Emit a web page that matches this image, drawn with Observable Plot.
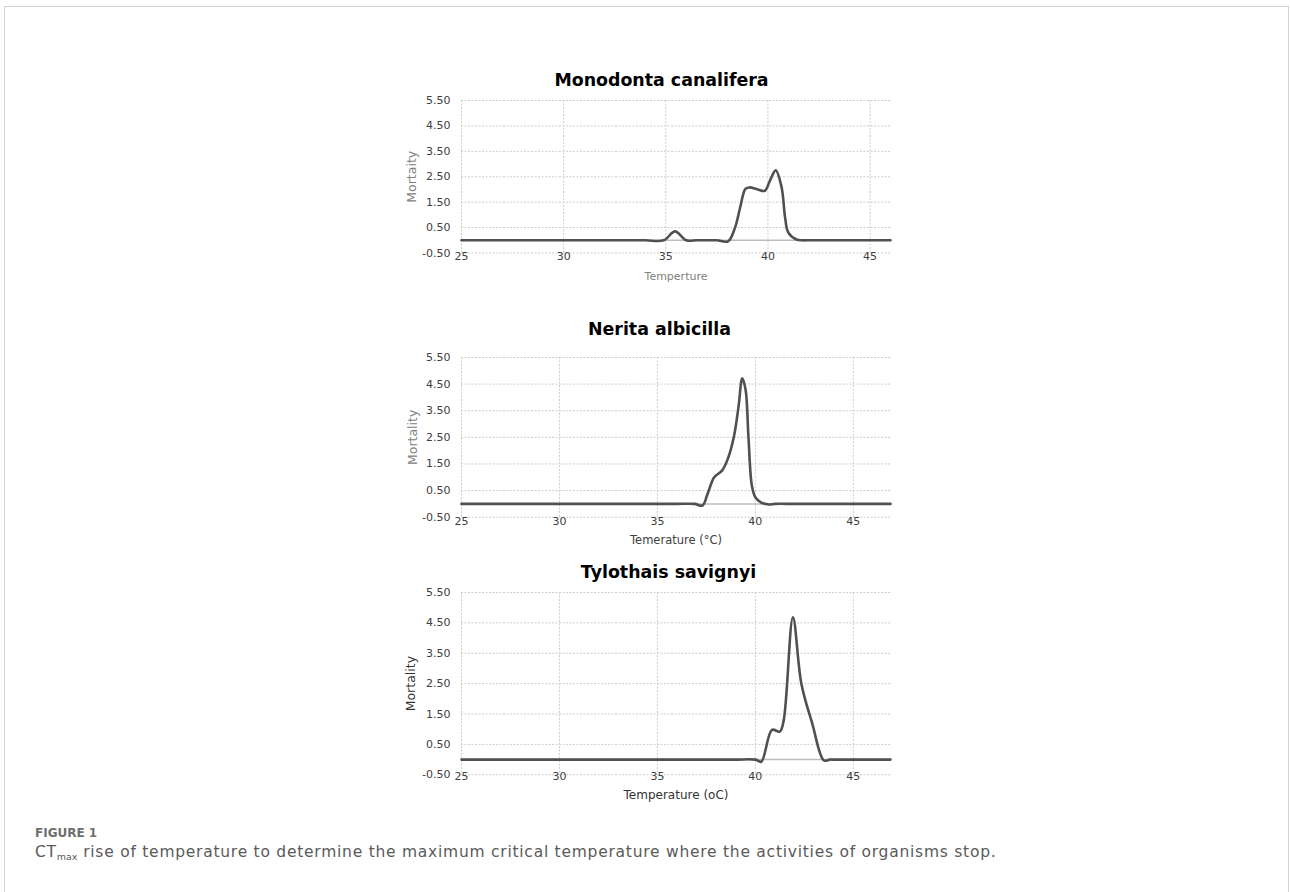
<!DOCTYPE html>
<html>
<head>
<meta charset="utf-8">
<script src="https://cdn.jsdelivr.net/npm/d3@7"></script>
<script src="https://cdn.jsdelivr.net/npm/@observablehq/plot@0.6"></script>
<style>
  html, body { margin: 0; padding: 0; background: #fff; }
  body { width: 1290px; height: 892px; overflow: hidden; position: relative; }
  #frame { position: absolute; left: 4px; top: 6px; width: 1285px; height: 900px;
           border: 1.5px solid #d2d2d2; border-bottom: none; box-sizing: border-box; }
  .panel { position: absolute; left: 395px; }
  .panel svg { overflow: visible; }
  #figlabel { position: absolute; left: 35px; top: 826.8px; font: 600 12px/12px "DejaVu Sans", sans-serif;
              color: #6e6e6e; white-space: nowrap; }
  #caption { position: absolute; left: 35px; top: 845px; font: 400 15.5px/15.5px "DejaVu Sans", sans-serif;
             color: #5a5a5a; white-space: nowrap; letter-spacing: 0.75px; }
  #caption sub { font-size: 9.5px; line-height: 0; vertical-align: -3px; letter-spacing: 0; }
</style>
</head>
<body>
<div id="frame"></div>
<div id="p1" class="panel" style="top:60px"></div>
<div id="p2" class="panel" style="top:317px"></div>
<div id="p3" class="panel" style="top:552px"></div>
<div id="figlabel">FIGURE 1</div>
<div id="caption">CT<sub>max</sub> rise of temperature to determine the maximum critical temperature where the activities of organisms stop.</div>
<script>
// ---- data ----
const xTicks = [25, 30, 35, 40, 45];
const yTicks = [-0.5, 0.5, 1.5, 2.5, 3.5, 4.5, 5.5];

const titles = ["Monodonta canalifera", "Nerita albicilla", "Tylothais savignyi"];
const xLabels = ["Temperture", "Temerature (°C)", "Temperature (oC)"];
const yLabels = ["Mortaity", "Mortality", "Mortality"];

// Monodonta canalifera
const monoTemp = [25, 26, 27, 28, 29, 30, 31, 32, 33, 34, 34.9, 35.45, 36.0, 36.5, 37, 37.5, 38.05, 38.39, 38.64, 38.9, 39.1, 39.5, 39.85, 40.1, 40.38, 40.67, 40.84, 41.0, 41.4, 41.7, 42, 43, 44, 45, 46];
const monoMort = [0, 0, 0, 0, 0, 0, 0, 0, 0, 0, 0, 0.35, 0, 0, 0, 0, -0.04, 0.5, 1.29, 2.02, 2.08, 2.0, 1.95, 2.35, 2.75, 2.08, 0.9, 0.3, 0.03, 0, 0, 0, 0, 0, 0];

// Nerita albicilla
const neritaTemp = [25, 26, 27, 28, 29, 30, 31, 32, 33, 34, 35, 36, 36.9, 37.3, 37.55, 37.9, 38.3, 38.6, 38.9, 39.15, 39.33, 39.5, 39.65, 39.82, 40.0, 40.3, 40.7, 41, 42, 43, 44, 45, 46, 46.9];
const neritaMort = [0, 0, 0, 0, 0, 0, 0, 0, 0, 0, 0, 0, 0, -0.06, 0.35, 1.0, 1.25, 1.7, 2.5, 3.7, 4.72, 4.3, 2.5, 0.7, 0.25, 0.05, -0.02, 0, 0, 0, 0, 0, 0, 0];

// Tylothais savignyi
const tyloTemp = [25, 26, 27, 28, 29, 30, 31, 32, 33, 34, 35, 36, 37, 38, 39, 40.0, 40.3, 40.85, 41.25, 41.45, 41.92, 42.35, 42.9, 43.5, 43.8, 44, 45, 46, 46.9];
const tyloMort = [0, 0, 0, 0, 0, 0, 0, 0, 0, 0, 0, 0, 0, 0, 0, 0, -0.07, 0.98, 0.92, 1.3, 4.68, 2.5, 1.2, -0.03, 0, 0, 0, 0, 0];

// ---- layout per panel ----
const panels = [
  {id: "p1", temp: monoTemp, mort: monoMort, xmax: 46, height: 228, mb: 35.5, tp: -1.3,
   titleDx: -14.5, titleDy: -20, xlDy: 23.5, xlFill: "#808080", xlSize: 11,
   ylDx: -50, ylFill: "#808080", ylSize: 12.5},
  {id: "p2", temp: neritaTemp, mort: neritaMort, xmax: 46.9, height: 235, mb: 35.3, tp: -0.5,
   titleDx: -16.5, titleDy: -28, xlDy: 23, xlFill: "#404040", xlSize: 11.5,
   ylDx: -49, ylFill: "#808080", ylSize: 12.5},
  {id: "p3", temp: tyloTemp, mort: tyloMort, xmax: 46.9, height: 252, mb: 29.7, tp: -2.3,
   titleDx: -7.5, titleDy: -19.7, xlDy: 20, xlFill: "#333333", xlSize: 12,
   ylDx: -51, ylFill: "#333333", ylSize: 12.5}
];

panels.forEach((cfg, k) => {
  const data = cfg.temp.map((t, i) => ({t, m: cfg.mort[i]}));
  const chart = Plot.plot({
    width: 520,
    height: cfg.height,
    marginLeft: 66,
    marginRight: 25,
    marginTop: 40,
    marginBottom: cfg.mb,
    x: {domain: [25, cfg.xmax]},
    y: {domain: [-0.5, 5.5]},
    style: {fontFamily: "'DejaVu Sans', Verdana, sans-serif", fontSize: "11px", color: "#404040", background: "transparent"},
    marks: [
      Plot.ruleY(yTicks, {stroke: "#cccccc", strokeDasharray: "2,1.5", strokeWidth: 1}),
      Plot.ruleX(xTicks, {stroke: "#cccccc", strokeDasharray: "2,1.5", strokeWidth: 1}),
      Plot.ruleY([0], {stroke: "#bdbdbd", strokeWidth: 1.5}),
      Plot.axisY(yTicks, {tickSize: 0, tickPadding: 11, tickFormat: d => d.toFixed(2), label: null}),
      Plot.axisX(xTicks, {tickSize: 0, tickPadding: cfg.tp, tickFormat: d => String(d), label: null}),
      Plot.line(data, {x: "t", y: "m", curve: "catmull-rom", stroke: "#505050", strokeWidth: 2.6}),
      Plot.text([titles[k]], {text: d => d, frameAnchor: "top", lineAnchor: "middle", textAnchor: "middle",
        dx: cfg.titleDx, dy: cfg.titleDy, fontWeight: "bold", fontSize: 17.4, fill: "#000"}),
      Plot.text([xLabels[k]], {text: d => d, frameAnchor: "bottom", lineAnchor: "middle", textAnchor: "middle",
        dy: cfg.xlDy, fill: cfg.xlFill, fontSize: cfg.xlSize}),
      Plot.text([yLabels[k]], {text: d => d, frameAnchor: "left", lineAnchor: "middle", textAnchor: "middle",
        rotate: -90, dx: cfg.ylDx, fill: cfg.ylFill, fontSize: cfg.ylSize})
    ]
  });
  document.getElementById(cfg.id).appendChild(chart);
});
</script>
</body>
</html>
